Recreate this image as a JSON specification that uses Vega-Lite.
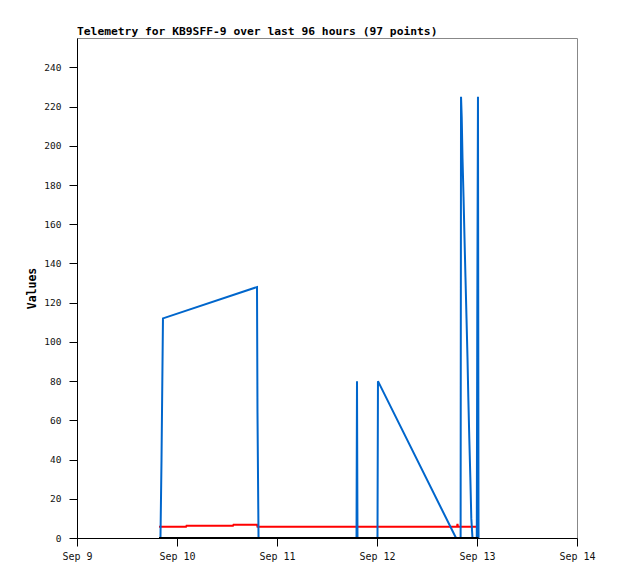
{
  "$schema": "https://vega.github.io/schema/vega-lite/v6.json",
  "width": 500,
  "height": 500,
  "autosize": {"type": "none"},
  "padding": {"left": 77, "top": 38, "right": 41, "bottom": 41},
  "background": "white",
  "config": {
    "view": {"stroke": "#888888", "strokeWidth": 1},
    "font": "DejaVu Sans Mono"
  },
  "title": {
    "text": "Telemetry for KB9SFF-9 over last 96 hours (97 points)",
    "anchor": "start",
    "frame": "group",
    "font": "DejaVu Sans Mono",
    "fontSize": 11.3,
    "fontWeight": "bold",
    "color": "#000000",
    "offset": 1
  },
  "datasets": {
    "telemetry": [
      {"series": "blue", "time": "2023-09-09T20:02:00", "value": 0},
      {"series": "blue", "time": "2023-09-09T20:17:00", "value": 40},
      {"series": "blue", "time": "2023-09-09T20:38:00", "value": 112},
      {"series": "blue", "time": "2023-09-10T19:12:00", "value": 128},
      {"series": "blue", "time": "2023-09-10T19:19:00", "value": 64},
      {"series": "blue", "time": "2023-09-10T19:34:00", "value": 0},
      {"series": "blue", "time": "2023-09-11T19:05:00", "value": 0},
      {"series": "blue", "time": "2023-09-11T19:12:00", "value": 80},
      {"series": "blue", "time": "2023-09-11T19:19:00", "value": 0},
      {"series": "blue", "time": "2023-09-12T00:07:00", "value": 0},
      {"series": "blue", "time": "2023-09-12T00:14:00", "value": 80},
      {"series": "blue", "time": "2023-09-12T18:58:00", "value": 0},
      {"series": "blue", "time": "2023-09-12T20:04:00", "value": 0},
      {"series": "blue", "time": "2023-09-12T20:10:00", "value": 225},
      {"series": "blue", "time": "2023-09-12T20:20:00", "value": 214.5},
      {"series": "blue", "time": "2023-09-12T20:31:00", "value": 194},
      {"series": "blue", "time": "2023-09-12T20:46:00", "value": 174},
      {"series": "blue", "time": "2023-09-12T21:00:00", "value": 153},
      {"series": "blue", "time": "2023-09-12T21:14:00", "value": 133},
      {"series": "blue", "time": "2023-09-12T21:29:00", "value": 112},
      {"series": "blue", "time": "2023-09-12T21:43:00", "value": 92},
      {"series": "blue", "time": "2023-09-12T21:55:00", "value": 71.5},
      {"series": "blue", "time": "2023-09-12T22:09:00", "value": 51},
      {"series": "blue", "time": "2023-09-12T22:24:00", "value": 31},
      {"series": "blue", "time": "2023-09-12T22:38:00", "value": 10},
      {"series": "blue", "time": "2023-09-12T22:55:00", "value": 0},
      {"series": "blue", "time": "2023-09-12T23:57:00", "value": 0},
      {"series": "blue", "time": "2023-09-13T00:04:00", "value": 112},
      {"series": "blue", "time": "2023-09-13T00:14:00", "value": 225},
      {"series": "blue", "time": "2023-09-13T00:22:00", "value": 0},
      {"series": "red", "time": "2023-09-09T19:41:00", "value": 5.7},
      {"series": "red", "time": "2023-09-10T02:10:00", "value": 5.7},
      {"series": "red", "time": "2023-09-10T02:17:00", "value": 6.2},
      {"series": "red", "time": "2023-09-10T13:26:00", "value": 6.2},
      {"series": "red", "time": "2023-09-10T13:34:00", "value": 6.7},
      {"series": "red", "time": "2023-09-10T19:12:00", "value": 6.7},
      {"series": "red", "time": "2023-09-10T19:19:00", "value": 5.7},
      {"series": "red", "time": "2023-09-12T19:12:00", "value": 5.7},
      {"series": "red", "time": "2023-09-12T19:19:00", "value": 7.2},
      {"series": "red", "time": "2023-09-12T19:26:00", "value": 5.7},
      {"series": "red", "time": "2023-09-12T23:55:00", "value": 5.7},
      {"series": "black", "time": "2023-09-09T19:41:00", "value": 0},
      {"series": "black", "time": "2023-09-13T00:22:00", "value": 0}
    ]
  },
  "data": {"name": "telemetry"},
  "encoding": {
    "x": {
      "field": "time",
      "type": "temporal",
      "scale": {"domain": [{"year": 2023, "month": 9, "date": 9}, {"year": 2023, "month": 9, "date": 14}]},
      "axis": {
        "title": null,
        "format": "%b %-d",
        "tickCount": {"interval": "day", "step": 1},
        "grid": false,
        "domainColor": "#000000",
        "domainWidth": 1,
        "tickColor": "#000000",
        "tickSize": 8,
        "labelPadding": 5,
        "labelFont": "DejaVu Sans Mono",
        "labelFontSize": 10,
        "labelColor": "#111111",
        "labelFlush": false
      }
    },
    "y": {
      "field": "value",
      "type": "quantitative",
      "scale": {"domain": [0, 255], "nice": false},
      "axis": {
        "title": "Values",
        "titleFont": "DejaVu Sans Mono",
        "titleFontSize": 11.5,
        "titleFontWeight": "bold",
        "titleColor": "#000000",
        "titlePadding": 6,
        "values": [0, 20, 40, 60, 80, 100, 120, 140, 160, 180, 200, 220, 240],
        "grid": false,
        "domainColor": "#000000",
        "tickColor": "#000000",
        "tickSize": 8,
        "labelPadding": 8,
        "labelFont": "DejaVu Sans Mono",
        "labelFontSize": 9.5,
        "labelColor": "#111111"
      }
    }
  },
  "layer": [
    {
      "transform": [{"filter": "datum.series === 'red'"}],
      "mark": {"type": "line", "color": "#ff0000", "strokeWidth": 2}
    },
    {
      "transform": [{"filter": "datum.series === 'blue'"}],
      "mark": {"type": "line", "color": "#0066cc", "strokeWidth": 2}
    },
    {
      "transform": [{"filter": "datum.series === 'black'"}],
      "mark": {"type": "line", "color": "#000000", "strokeWidth": 2}
    }
  ]
}
